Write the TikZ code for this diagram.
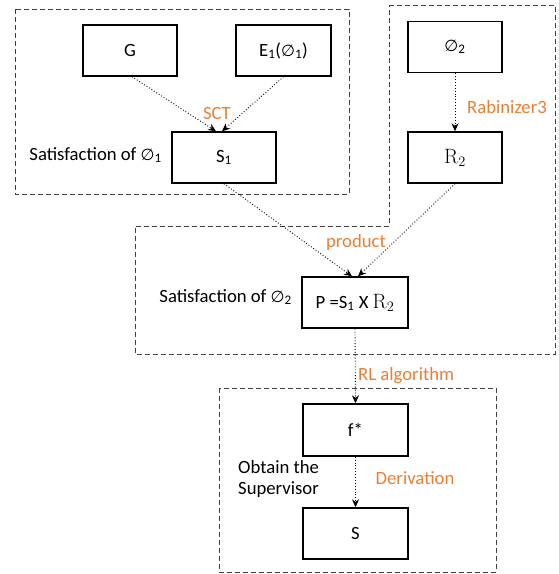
\documentclass[tikz,border=0pt]{standalone}
\usepackage[no-math]{fontspec}
\setmainfont{Carlito}
\newfontfamily\djvfont{DejaVu Sans}
\usetikzlibrary{arrows.meta}
\definecolor{lblorange}{HTML}{ED7D31}
\definecolor{dashgray}{HTML}{404040}
\newcommand{\phisym}{{\djvfont\fontsize{16}{20}\selectfont ∅}}
\newcommand{\sbs}[1]{\textsubscript{#1}}
\newcommand{\rtwo}{{\fontsize{21}{24}\selectfont$\mathrm{R}_2$}}
\begin{document}
\begin{tikzpicture}[x=1pt,y=-1pt,
  every node/.style={font=\fontsize{18.7}{22}\selectfont},
  blk/.style={draw=black,line width=1.4pt,fill=white,minimum width=#1,minimum height=51pt,inner sep=0pt},
  blk/.default=94pt,
  grp/.style={draw=dashgray,line width=0.9pt,dash pattern=on 5pt off 3pt},
  flow/.style={draw=black,line width=0.9pt,dotted,-{Stealth[length=8pt,width=7pt]}},
  lbl/.style={text=lblorange,inner sep=1pt},
  txt/.style={text=black,inner sep=1pt}]
\useasboundingbox (0,0) rectangle (558,574);
% group frames
\draw[grp] (15,9) rectangle (349,194);
\draw[grp] (389,5) -- (555,5) -- (555,354) -- (135,354) -- (135,226) -- (389,226) -- cycle;
\draw[grp] (219,388) rectangle (496,572);
% blocks
\node[blk=94pt] (G) at (130,50.5) {G};
\node[blk=95pt] (E) at (283.5,50.5) {E\sbs{1}(\phisym\sbs{1})};
\node[blk=104pt] (S1) at (224,157.5) {S\sbs{1}};
\node[blk=94pt] (phi) at (455,47) {\phisym\sbs{2}};
\node[blk=94pt] (R) at (455,157.5) {\rtwo};
\node[blk=106pt] (P) at (355,302.5) {P =S\sbs{1} X \rtwo};
\node[blk=105pt,minimum height=52pt] (F) at (355.5,430) {f*};
\node[blk=105pt] (S) at (355.5,533.5) {S};
% connectors
\draw[flow] ([xshift=2pt]G.south) -- ([xshift=-8pt]S1.north);
\draw[flow] (E.south) -- ([xshift=-2pt]S1.north);
\draw[flow] (phi.south) -- (R.north);
\draw[flow] (S1.south) -- ([xshift=-3pt]P.north);
\draw[flow] (R.south) -- ([xshift=3pt]P.north);
\draw[flow] (P.south) -- (F.north);
\draw[flow] (F.south) -- (S.north);
% labels
\node[lbl] (sct) at (217,113) {SCT};
\node[lbl] (rab) at (507,107) {Rabinizer3};
\node[lbl] (prod) at (356,243) {product};
\node[lbl,anchor=west] (rl) at (357,376) {RL algorithm};
\node[lbl] (der) at (415,478) {Derivation};
\node[txt,anchor=east] (sat1) at (163,155) {Satisfaction of \phisym\sbs{1}};
\node[txt,anchor=east] (sat2) at (293,297) {Satisfaction of \phisym\sbs{2}};
\node[txt,anchor=north west,align=left] (obt) at (237,459) {Obtain the\\[-1pt]Supervisor};
\end{tikzpicture}
\end{document}
